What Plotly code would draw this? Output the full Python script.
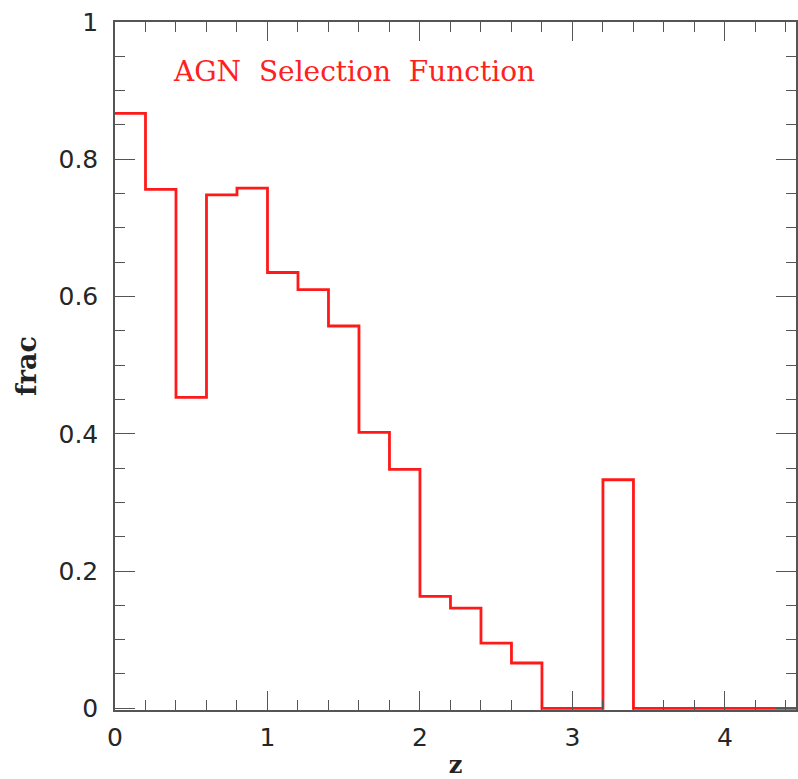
import plotly.graph_objects as go

# bin left edges (width 0.2) and selection fraction per bin
z_left = [0.0, 0.2, 0.4, 0.6, 0.8, 1.0, 1.2, 1.4, 1.6, 1.8, 2.0, 2.2, 2.4, 2.6,
          2.8, 3.0, 3.2, 3.4, 3.6, 3.8, 4.0, 4.2, 4.4]
frac = [0.867, 0.756, 0.453, 0.748, 0.758, 0.635, 0.610, 0.557, 0.402, 0.348,
        0.163, 0.146, 0.095, 0.066, 0.0, 0.0, 0.333, 0.0, 0.0, 0.0, 0.0, 0.0, 0.0]
bin_width = 0.2

x_step = z_left + [z_left[-1] + bin_width]
y_step = frac + [frac[-1]]

axis_color = "#555555"
tick_font = dict(family="DejaVu Sans", size=25, color="#262626")

fig = go.Figure()
fig.add_trace(go.Scatter(
    x=x_step, y=y_step, mode="lines", line_shape="hv",
    line=dict(color="#ff1a1a", width=2.8), showlegend=False,
))

fig.add_annotation(
    x=0.37, y=0.928, xref="x", yref="y", xanchor="left", yanchor="middle",
    text="AGN\u00a0 Selection\u00a0 Function", showarrow=False,
    font=dict(family="DejaVu Serif", size=28, color="#ff2020"),
)

fig.update_xaxes(
    range=[0, 4.466], showline=True, linecolor=axis_color, linewidth=1.5,
    mirror="ticks", ticks="inside", ticklen=19, tickwidth=1.3, tickcolor=axis_color,
    tickvals=[0, 1, 2, 3, 4], ticktext=["0", "1", "2", "3", "4"],
    minor=dict(dtick=0.2, tick0=0, ticks="inside", ticklen=10, tickwidth=1.3,
               tickcolor=axis_color, showgrid=False),
    showgrid=False, zeroline=False, tickfont=tick_font, ticklabelstandoff=4,
    title=dict(text="<b>z</b>", font=dict(family="DejaVu Serif", size=24, color="#222222"),
               standoff=10),
)
fig.update_yaxes(
    range=[-0.0025, 1.0], showline=True, linecolor=axis_color, linewidth=1.5,
    mirror="ticks", ticks="inside", ticklen=20, tickwidth=1.3, tickcolor=axis_color,
    tickvals=[0, 0.2, 0.4, 0.6, 0.8, 1.0], ticktext=["0", "0.2", "0.4", "0.6", "0.8", "1"],
    minor=dict(dtick=0.05, tick0=0, ticks="inside", ticklen=10, tickwidth=1.3,
               tickcolor=axis_color, showgrid=False),
    showgrid=False, zeroline=False, tickfont=tick_font, ticklabelstandoff=10,
    title=dict(text="<b>frac</b>", font=dict(family="DejaVu Serif", size=27, color="#222222"),
               standoff=14),
)

fig.update_layout(
    width=798, height=779,
    margin=dict(l=115, r=0, t=22, b=69),
    plot_bgcolor="white", paper_bgcolor="white",
)

fig.write_html("out.html")
